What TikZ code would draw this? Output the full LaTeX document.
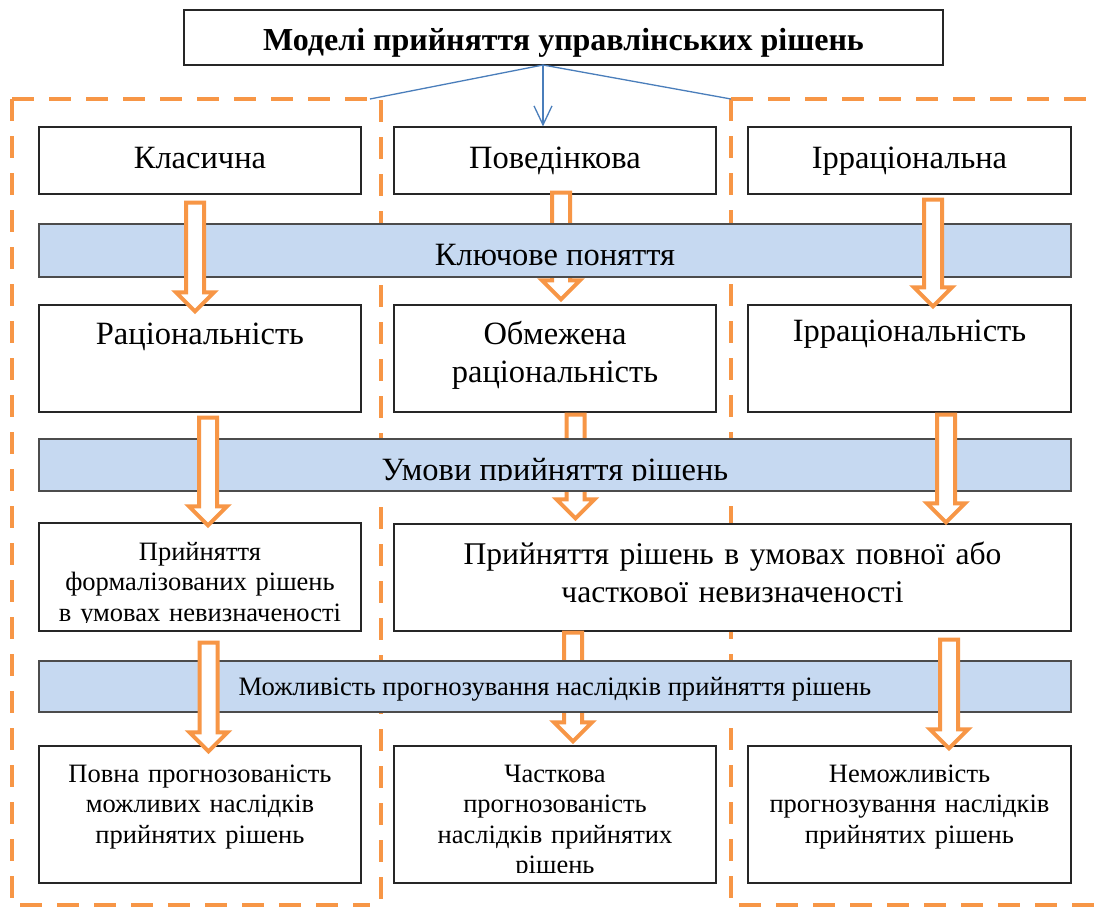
\documentclass[tikz,border=0pt]{standalone}
\usepackage{fontspec}
\setmainfont{Liberation Serif}
\usetikzlibrary{calc,arrows.meta}
\definecolor{orng}{RGB}{247,150,70}
\definecolor{bandblue}{RGB}{198,217,241}
\definecolor{lnblue}{RGB}{74,126,187}
\newcommand\fsz[2]{\fontsize{#1}{#2}\selectfont}
% #1 centre x, #2 source node, #3 target node, #4 top offset below source, #5 tip offset below target top
\newcommand\blockarrow[5]{%
  \draw[blockarr] let \p1=($(#2.south)+(0,#4)$), \p2=($(#3.north)+(0,#5)$) in
    (#1-9,\y1) -- (#1+9,\y1) -- (#1+9,{\y2+19pt}) -- (#1+19,{\y2+19pt})
    -- (#1,\y2) -- (#1-19,{\y2+19pt}) -- (#1-9,{\y2+19pt}) -- cycle;}
\begin{document}
\begin{tikzpicture}[x=1pt,y=-1pt,
  box/.style={draw=black!85,line width=1.2pt,fill=white,inner sep=0pt},
  colbox/.style={box,minimum width=322pt},
  band/.style={draw=black!70,line width=1.2pt,fill=bandblue,inner sep=0pt,minimum width=1032pt,minimum height=52pt},
  region/.style={draw=orng,line width=4pt,dash pattern=on 22pt off 15pt},
  blockarr/.style={draw=orng,line width=4pt,fill=white,line join=miter},
  conn/.style={draw=lnblue,line width=1.3pt},
  lbl/.style={inner sep=0pt,anchor=base,align=center},
  fbig/.style={font=\fsz{32.5}{38}},
  fsmall/.style={font=\fsz{26.5}{30.5}},
]
\useasboundingbox[fill=white] (0,0) rectangle (1096,908);

% dashed regions
\draw[region] (12,99) -- (381,99) -- (381,912);
\draw[region] (12,99) -- (12,905) -- (370,905);
\draw[region] (731,99) -- (1110,99);
\draw[region] (731,99) -- (731,905) -- (1110,905);

% title and connectors
\node[box,minimum width=759pt,minimum height=55pt] (title) at (563.5,37.5) {};
\coordinate (hub) at (543,65);
\coordinate (lc) at (370,99);
\coordinate (rc) at (731,99);

% row 1
\node[colbox,minimum height=67pt] (kl) at (200,160.5) {};
\node[colbox,minimum height=67pt] (pov) at (555,160.5) {};
\node[colbox,minimum width=323pt,minimum height=67pt] (irr) at (909.5,160.5) {};
\draw[conn] (hub) -- (lc);
\draw[conn] (hub) -- (rc);
\draw[conn,-{Straight Barb[length=19pt,width=18pt]}] (hub) -- (hub |- pov.north);

% row 2
\node[colbox,minimum height=107pt] (rat) at (200,358.5) {};
\node[colbox,minimum height=107pt] (obm) at (555,358.5) {};
\node[colbox,minimum width=323pt,minimum height=107pt] (irrat) at (909.5,358.5) {};

% row 3
\node[colbox,minimum height=108pt] (fl) at (200,577) {};
\node[box,minimum width=677pt,minimum height=107pt] (bigb) at (732.5,577.5) {};

% row 4
\node[colbox,minimum height=137pt] (pv) at (200,814.5) {};
\node[colbox,minimum height=137pt] (ch) at (555,814.5) {};
\node[colbox,minimum width=323pt,minimum height=137pt] (nem) at (909.5,814.5) {};

% middle arrows (behind the bands)
\blockarrow{561}{pov}{obm}{-2}{-5}
\blockarrow{575.5}{obm}{bigb}{2}{-5}
\blockarrow{573}{bigb}{ch}{1}{-4}

% bands
\node[band,minimum height=53pt] (b1) at (555,250.5) {};
\node[band] (b2) at (555,465) {};
\node[band,minimum height=51pt] (b3) at (555,686.5) {};

% side arrows (over the bands)
\blockarrow{195}{kl}{rat}{8}{7}
\blockarrow{208}{rat}{fl}{5}{3}
\blockarrow{208.5}{fl}{pv}{11}{6}
\blockarrow{933}{irr}{irrat}{5}{2}
\blockarrow{946}{irrat}{bigb}{2}{-1}
\blockarrow{949}{bigb}{nem}{8}{3}

% texts
\node[lbl,font=\fsz{32}{38}\bfseries] (titlet) at (563.5,50) {Моделі прийняття управлінських рішень};
\node[lbl,fbig] (klt) at (200,168) {Класична};
\node[lbl,fbig] (povt) at (555,168) {Поведінкова};
\node[lbl,fbig] (irrt) at (909.5,168) {Ірраціональна};
\node[lbl,fbig] (b1t) at (555,265) {Ключове поняття};
\node[lbl,fbig] (ratt) at (200,344) {Раціональність};
\node[lbl,fbig,text width=310pt] (obmt) at (555,344) {Обмежена\\раціональність};
\node[lbl,fbig] (irratt) at (909.5,341) {Ірраціональність};
\begin{scope}
  \clip (39,439) rectangle (1071,480.5);
  \node[lbl,fbig] (b2t) at (555,480) {Умови прийняття рішень};
\end{scope}
\begin{scope}
  \clip (39,523) rectangle (361,622);
  \node[lbl,fsmall,text width=316pt] (flt) at (200,560) {Прийняття\\формалізованих рішень\\в умовах невизначеності};
\end{scope}
\node[lbl,font=\fsz{31.6}{38},text width=660pt] (bigt) at (732.5,564) {Прийняття рішень в умовах повної або\\часткової невизначеності};
\node[lbl,font=\fsz{26.6}{30}] (b3t) at (555,695) {Можливість прогнозування наслідків прийняття рішень};
\node[lbl,fsmall,text width=316pt] (pvt) at (200,782) {Повна прогнозованість\\можливих наслідків\\прийнятих рішень};
\begin{scope}
  \clip (394,746) rectangle (716,872.5);
  \node[lbl,fsmall,text width=316pt] (cht) at (555,782) {Часткова\\прогнозованість\\наслідків прийнятих\\рішень};
\end{scope}
\node[lbl,fsmall,text width=316pt] (nemt) at (909.5,782) {Неможливість\\прогнозування наслідків\\прийнятих рішень};
\end{tikzpicture}
\end{document}
